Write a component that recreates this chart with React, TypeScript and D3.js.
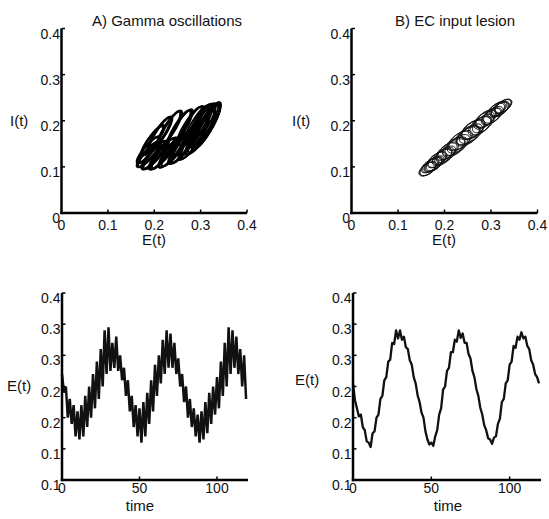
import React from 'react';
import * as d3 from 'd3';

const FONT = "'Liberation Sans', Arial, Helvetica, sans-serif";

// ---- tick values / labels ----
const phaseTicks = [0, 0.1, 0.2, 0.3, 0.4];
const phaseTickLabels = ['0', '0.1', '0.2', '0.3', '0.4'];
const seriesYTicks = [0.1, 0.15, 0.2, 0.25, 0.3, 0.35, 0.4];
const seriesYTickLabels = ['0.1', '0.1', '0.2', '0.2', '0.3', '0.3', '0.4'];
const timeTicks = [0, 50, 100];
const timeTickLabels = ['0', '50', '100'];

// ---- time series: gamma-cycle peaks (upper) and troughs (lower), one pair per 2.5 time units ----
const GAMMA_STEP = 2.5;
const upperA = [0.27, 0.25, 0.23, 0.22, 0.21, 0.22, 0.235, 0.25, 0.27, 0.29, 0.31, 0.34, 0.345, 0.32, 0.33, 0.30, 0.28, 0.26, 0.235, 0.22, 0.215, 0.225, 0.24, 0.26, 0.285, 0.30, 0.325, 0.34, 0.335, 0.32, 0.295, 0.27, 0.25, 0.23, 0.215, 0.205, 0.21, 0.225, 0.24, 0.25, 0.265, 0.29, 0.32, 0.345, 0.34, 0.33, 0.31, 0.30];
const lowerA = [0.24, 0.20, 0.19, 0.17, 0.165, 0.17, 0.185, 0.20, 0.215, 0.23, 0.25, 0.27, 0.275, 0.28, 0.275, 0.26, 0.235, 0.21, 0.185, 0.17, 0.16, 0.17, 0.19, 0.21, 0.235, 0.255, 0.27, 0.28, 0.28, 0.27, 0.25, 0.225, 0.20, 0.185, 0.17, 0.16, 0.165, 0.175, 0.19, 0.205, 0.215, 0.235, 0.25, 0.27, 0.28, 0.27, 0.25, 0.23];
const upperB = [0.255, 0.215, 0.205, 0.18, 0.16, 0.175, 0.20, 0.23, 0.26, 0.29, 0.32, 0.34, 0.34, 0.33, 0.31, 0.285, 0.255, 0.225, 0.20, 0.165, 0.16, 0.17, 0.205, 0.245, 0.275, 0.305, 0.325, 0.34, 0.335, 0.32, 0.295, 0.265, 0.235, 0.205, 0.18, 0.165, 0.168, 0.19, 0.225, 0.255, 0.285, 0.315, 0.33, 0.337, 0.33, 0.31, 0.285, 0.265];
const lowerB = [0.228, 0.202, 0.185, 0.162, 0.153, 0.178, 0.205, 0.235, 0.265, 0.293, 0.318, 0.327, 0.325, 0.313, 0.292, 0.265, 0.236, 0.208, 0.178, 0.157, 0.155, 0.18, 0.215, 0.25, 0.28, 0.305, 0.322, 0.328, 0.32, 0.302, 0.275, 0.246, 0.216, 0.188, 0.167, 0.158, 0.17, 0.198, 0.23, 0.26, 0.29, 0.312, 0.325, 0.327, 0.315, 0.292, 0.27, 0.255];

// ---- phase-plane loops (one per gamma cycle): centre E, centre I, E half-range, I half-range ----
const loopCentreEA = [0.255, 0.232, 0.212, 0.197, 0.188, 0.19, 0.203, 0.222, 0.245, 0.268, 0.288, 0.303, 0.313, 0.31, 0.296, 0.275, 0.252, 0.23, 0.21, 0.195, 0.186, 0.188, 0.2, 0.218, 0.24, 0.264, 0.285, 0.3, 0.312, 0.314, 0.3, 0.28, 0.257, 0.234, 0.214, 0.198, 0.187, 0.187, 0.198, 0.215, 0.237, 0.26, 0.282, 0.298, 0.311, 0.315, 0.305, 0.29];
const loopCentreIA = [0.183, 0.182, 0.172, 0.158, 0.137, 0.128, 0.126, 0.13, 0.138, 0.15, 0.163, 0.176, 0.187, 0.192, 0.192, 0.188, 0.182, 0.18, 0.17, 0.156, 0.136, 0.127, 0.125, 0.128, 0.136, 0.148, 0.161, 0.175, 0.186, 0.193, 0.193, 0.19, 0.184, 0.182, 0.172, 0.158, 0.137, 0.128, 0.125, 0.127, 0.134, 0.146, 0.159, 0.173, 0.186, 0.192, 0.193, 0.19];
const loopHalfEA = [0.026, 0.026, 0.025, 0.024, 0.024, 0.025, 0.026, 0.027, 0.029, 0.03, 0.03, 0.03, 0.029, 0.028, 0.027, 0.027, 0.026, 0.026, 0.025, 0.024, 0.024, 0.025, 0.026, 0.027, 0.029, 0.03, 0.03, 0.031, 0.03, 0.028, 0.027, 0.027, 0.026, 0.026, 0.025, 0.024, 0.024, 0.025, 0.026, 0.027, 0.028, 0.03, 0.03, 0.031, 0.031, 0.029, 0.028, 0.027];
const loopHalfIA = [0.04, 0.04, 0.037, 0.033, 0.029, 0.028, 0.031, 0.034, 0.037, 0.041, 0.044, 0.047, 0.048, 0.046, 0.044, 0.042, 0.041, 0.04, 0.037, 0.032, 0.028, 0.028, 0.031, 0.034, 0.037, 0.041, 0.044, 0.047, 0.048, 0.047, 0.044, 0.042, 0.041, 0.04, 0.037, 0.033, 0.029, 0.028, 0.03, 0.033, 0.036, 0.04, 0.044, 0.047, 0.048, 0.048, 0.045, 0.043];

const loopCentreEB = [0.25, 0.22, 0.195, 0.175, 0.165, 0.175, 0.195, 0.22, 0.25, 0.275, 0.3, 0.318, 0.327, 0.315, 0.29, 0.262, 0.235, 0.208, 0.185, 0.17, 0.163, 0.178, 0.2, 0.225, 0.252, 0.278, 0.302, 0.32, 0.326, 0.312, 0.288, 0.26, 0.232, 0.205, 0.183, 0.168, 0.165, 0.18, 0.203, 0.23, 0.257, 0.283, 0.305, 0.32, 0.325, 0.31, 0.285, 0.262];
const loopCentreIB = [0.169, 0.144, 0.123, 0.106, 0.096, 0.104, 0.12, 0.141, 0.166, 0.188, 0.209, 0.224, 0.232, 0.226, 0.205, 0.181, 0.158, 0.135, 0.116, 0.103, 0.095, 0.106, 0.124, 0.145, 0.168, 0.19, 0.21, 0.225, 0.231, 0.224, 0.204, 0.18, 0.156, 0.133, 0.115, 0.102, 0.096, 0.108, 0.127, 0.15, 0.172, 0.194, 0.213, 0.226, 0.231, 0.222, 0.201, 0.182];
const loopHalfEB = [0.025, 0.024, 0.021, 0.019, 0.018, 0.019, 0.021, 0.024, 0.025, 0.024, 0.021, 0.019, 0.018, 0.019, 0.022, 0.025, 0.025, 0.022, 0.02, 0.018, 0.018, 0.019, 0.021, 0.024, 0.025, 0.023, 0.021, 0.019, 0.018, 0.019, 0.022, 0.025, 0.025, 0.022, 0.02, 0.018, 0.018, 0.019, 0.021, 0.024, 0.025, 0.023, 0.021, 0.019, 0.018, 0.019, 0.022, 0.025];
const loopHalfIB = [0.021, 0.02, 0.018, 0.016, 0.015, 0.016, 0.018, 0.02, 0.021, 0.021, 0.018, 0.016, 0.015, 0.016, 0.019, 0.021, 0.021, 0.019, 0.017, 0.015, 0.015, 0.016, 0.018, 0.02, 0.021, 0.02, 0.018, 0.016, 0.015, 0.016, 0.019, 0.021, 0.021, 0.019, 0.017, 0.015, 0.015, 0.016, 0.018, 0.02, 0.021, 0.02, 0.018, 0.016, 0.015, 0.016, 0.019, 0.021];

const LAG_A = (28 * Math.PI) / 180;
const LAG_B = (55 * Math.PI) / 180;

type Scale = d3.ScaleLinear<number, number>;

function seriesPath(x: Scale, y: Scale, up: number[], lo: number[]) {
  const pts: [number, number][] = [];
  up.forEach((u, k) => {
    pts.push([x(k * GAMMA_STEP), y(u)]);
    pts.push([x(k * GAMMA_STEP + GAMMA_STEP / 2), y(lo[k])]);
  });
  return d3.line().curve(d3.curveLinear)(pts) || '';
}

function loopPaths(x: Scale, y: Scale, cE: number[], cI: number[], rE: number[], rI: number[], lag: number) {
  const line = d3.line().curve(d3.curveLinearClosed);
  return cE.map((e, k) => {
    const pts: [number, number][] = d3.range(48).map((j) => {
      const th = (j / 48) * 2 * Math.PI;
      return [x(e + rE[k] * Math.cos(th)), y(cI[k] + rI[k] * Math.cos(th - lag))];
    });
    return line(pts) || '';
  });
}

function Axes({ x, y, xTicks, xLabels, yTicks, yLabels, xLabelBase }: any) {
  const x0 = x.range()[0];
  const x1 = x.range()[1];
  const y0 = y.range()[0];
  const y1 = y.range()[1];
  return (
    <g>
      <line x1={x0 - 1.2} y1={y0} x2={x1} y2={y0} stroke="#000" strokeWidth={2.5} />
      <line x1={x0} y1={y0 + 1.2} x2={x0} y2={y1} stroke="#000" strokeWidth={2.5} />
      {xTicks.map((t: number, i: number) => (
        <g key={'x' + i}>
          {i > 0 && <line x1={x(t)} x2={x(t)} y1={y0} y2={y0 - 3.5} stroke="#000" strokeWidth={1.5} />}
          <text x={x(t)} y={xLabelBase} textAnchor="middle" fontSize={14} fontFamily={FONT} fill="#111">
            {xLabels[i]}
          </text>
        </g>
      ))}
      {yTicks.map((t: number, i: number) => (
        <g key={'y' + i}>
          {i > 0 && <line x1={x0} x2={x0 + 3.5} y1={y(t)} y2={y(t)} stroke="#000" strokeWidth={1.5} />}
          <text x={x0 - 1.5} y={y(t) + 10} textAnchor="end" fontSize={14} fontFamily={FONT} fill="#111">
            {yLabels[i]}
          </text>
        </g>
      ))}
    </g>
  );
}

export default function App() {
  const syP = d3.scaleLinear().domain([0, 0.4]).range([213, 28.5]);
  const sxPA = d3.scaleLinear().domain([0, 0.4]).range([61.5, 247]);
  const sxPB = d3.scaleLinear().domain([0, 0.4]).range([351.5, 537.5]);
  const syT = d3.scaleLinear().domain([0.1, 0.4]).range([480, 293]);
  const sxTA = d3.scaleLinear().domain([0, 120]).range([62, 248]);
  const sxTB = d3.scaleLinear().domain([0, 120]).range([353, 541]);

  const loopsA = loopPaths(sxPA, syP, loopCentreEA, loopCentreIA, loopHalfEA, loopHalfIA, LAG_A);
  const loopsB = loopPaths(sxPB, syP, loopCentreEB, loopCentreIB, loopHalfEB, loopHalfIB, LAG_B);

  const txt = { fontFamily: FONT, fill: '#111' };

  return (
    <svg width={549} height={519} style={{ position: 'absolute', left: 0, top: 0, background: '#fff' }}>
      <rect width={549} height={519} fill="#fff" />
      {/* titles */}
      <text x={92} y={26} fontSize={15} {...txt}>A) Gamma oscillations</text>
      <text x={395} y={26} fontSize={15} {...txt}>B) EC input lesion</text>

      {/* phase plane A */}
      <g>
        {loopsA.map((d, i) => (
          <path key={i} d={d} fill="none" stroke="#000" strokeWidth={1.9} />
        ))}
        <Axes x={sxPA} y={syP} xTicks={phaseTicks} xLabels={phaseTickLabels} yTicks={phaseTicks} yLabels={phaseTickLabels} xLabelBase={230} />
        <text x={10} y={126} fontSize={15} {...txt}>I(t)</text>
        <text x={154} y={245} fontSize={15} textAnchor="middle" {...txt}>E(t)</text>
      </g>

      {/* phase plane B */}
      <g>
        {loopsB.map((d, i) => (
          <path key={i} d={d} fill="none" stroke="#111" strokeWidth={1} />
        ))}
        <Axes x={sxPB} y={syP} xTicks={phaseTicks} xLabels={phaseTickLabels} yTicks={phaseTicks} yLabels={phaseTickLabels} xLabelBase={230} />
        <text x={292} y={126} fontSize={15} {...txt}>I(t)</text>
        <text x={444} y={245} fontSize={15} textAnchor="middle" {...txt}>E(t)</text>
      </g>

      {/* time series A */}
      <g>
        <path d={seriesPath(sxTA, syT, upperA, lowerA)} fill="none" stroke="#111" strokeWidth={2.5} strokeLinejoin="miter" />
        <Axes x={sxTA} y={syT} xTicks={timeTicks} xLabels={timeTickLabels} yTicks={seriesYTicks} yLabels={seriesYTickLabels} xLabelBase={493} />
        <text x={7} y={391} fontSize={15} {...txt}>E(t)</text>
        <text x={140} y={511} fontSize={15} textAnchor="middle" {...txt}>time</text>
      </g>

      {/* time series B */}
      <g>
        <path d={seriesPath(sxTB, syT, upperB, lowerB)} fill="none" stroke="#111" strokeWidth={2.3} strokeLinejoin="round" />
        <Axes x={sxTB} y={syT} xTicks={timeTicks} xLabels={timeTickLabels} yTicks={seriesYTicks} yLabels={seriesYTickLabels} xLabelBase={493} />
        <text x={295} y={385} fontSize={15} {...txt}>E(t)</text>
        <text x={448} y={511} fontSize={15} textAnchor="middle" {...txt}>time</text>
      </g>
    </svg>
  );
}
